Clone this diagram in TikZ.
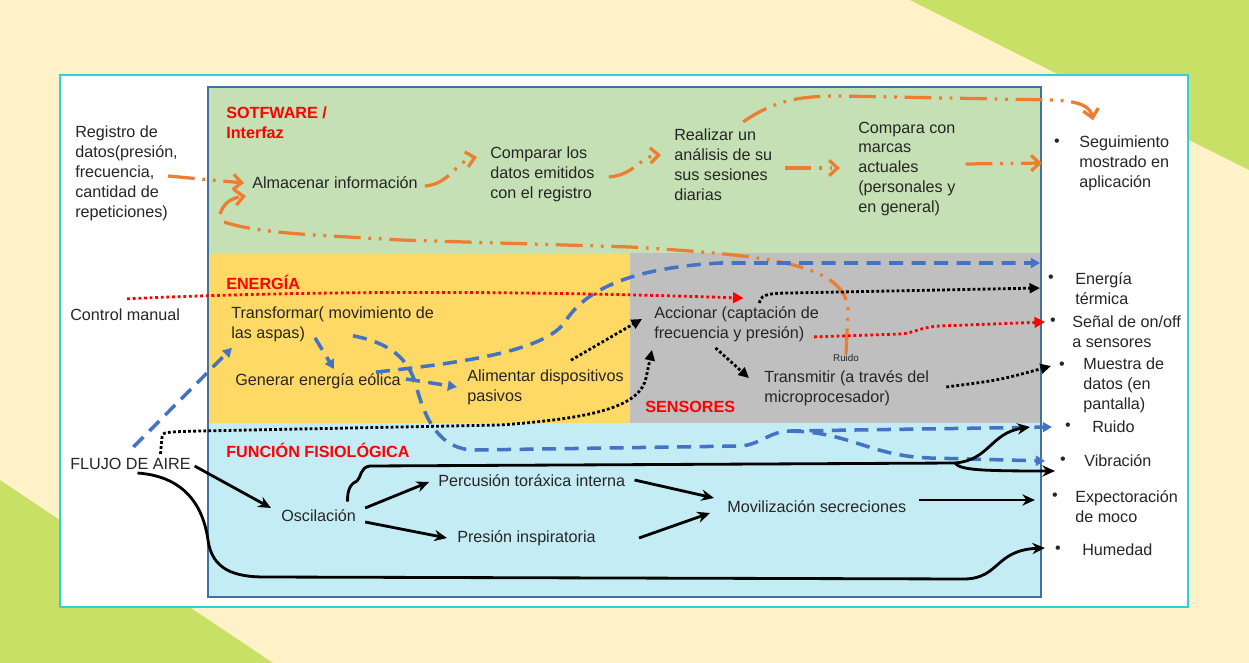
\documentclass[tikz,border=0pt]{standalone}
\usepackage{fontspec}
\setmainfont{Liberation Sans}
\usetikzlibrary{arrows.meta,calc}
\definecolor{crema}{HTML}{FFF2C8}
\definecolor{lima}{HTML}{C9E066}
\definecolor{cian}{HTML}{2CD4D8}
\definecolor{marco}{HTML}{41719C}
\definecolor{verde}{HTML}{C5E0B4}
\definecolor{amarillo}{HTML}{FFD966}
\definecolor{gris}{HTML}{BFBFBF}
\definecolor{celeste}{HTML}{C4ECF5}
\definecolor{naranja}{HTML}{ED7D31}
\definecolor{azul}{HTML}{4472C4}
\definecolor{rojo}{HTML}{FF0000}
\definecolor{tinta}{HTML}{262626}

\begin{document}
\begin{tikzpicture}[x=0.025cm,y=-0.025cm,
				texto/.style={anchor=west,inner sep=0pt,align=left,text=tinta,font=\fontsize{11.5}{14.2}\selectfont},
				titulo/.style={anchor=west,inner sep=0pt,align=left,text=rojo,font=\fontsize{11.5}{14.2}\selectfont\bfseries},
				punto/.style={inner sep=0pt,text=tinta,font=\fontsize{11.5}{14.2}\selectfont},
				softw/.style={draw=naranja,line width=2.3pt,dash pattern=on 19pt off 5.5pt on 2pt off 5.5pt on 2pt off 5.5pt,-{Straight Barb[length=6pt,width=11pt]}},
				energ/.style={draw=azul,line width=2.5pt,dash pattern=on 10pt off 6pt,-{Triangle[length=6.5pt,width=7pt]}},
				control/.style={draw=rojo,line width=2pt,dash pattern=on 2pt off 2pt,-{Triangle[length=7.5pt,width=7.5pt]}},
				sensor/.style={draw=black,line width=2pt,dash pattern=on 2pt off 1.6pt,-{Triangle[length=7.5pt,width=7pt]}},
				fisio/.style={draw=black,line width=2pt,-{Stealth[length=9pt,width=8pt]}}]
	\fill[crema] (0,0) rectangle (1249,663);
	\fill[lima] (910,0) -- (1249,0) -- (1249,170) -- cycle;
	\fill[lima] (0,480) -- (273,663) -- (0,663) -- cycle;
	\draw[cian, line width=1.5pt, fill=white] (60,75) rectangle (1188,607);
	\fill[verde] (208,87) rectangle (1041,253);
	\fill[amarillo] (208,253) rectangle (630,423);
	\fill[gris] (630,253) rectangle (1041,423);
	\fill[celeste] (208,423) rectangle (1041,597);
	\draw[marco, line width=1pt] (208,87) rectangle (1041,597);

	\node[titulo] (tsoft) at (226,123) {SOTFWARE /\\Interfaz};
	\node[texto] (regdatos) at (75,173) {Registro de\\datos(presión,\\frecuencia,\\cantidad de\\repeticiones)};
	\node[texto] (almacen) at (252,183) {Almacenar información};
	\node[texto] (comparar) at (490,174) {Comparar los\\datos emitidos\\con el registro};
	\node[texto] (realizar) at (674,165) {Realizar un\\análisis de su\\sus sesiones\\diarias};
	\node[texto] (marcas) at (858,169) {Compara con\\marcas\\actuales\\(personales y\\en general)};
	\node[punto] (bseg) at (1057,143) {•};
	\node[texto] (seguim) at (1079,163) {Seguimiento\\mostrado en\\aplicación};

	\node[titulo] (tenergia) at (226,282) {ENERGÍA};
	\node[texto] (control) at (70,315) {Control manual};
	\node[texto] (transf) at (231,324) {Transformar( movimiento de\\las aspas)};
	\node[texto] (generar) at (235,381) {Generar energía eólica};
	\node[texto] (aliment) at (467,387) {Alimentar dispositivos\\pasivos};
	\node[texto] (accionar) at (654,324) {Accionar (captación de\\frecuencia y presión)};
	\node[inner sep=0pt,text=tinta,font=\fontsize{7}{8}\selectfont] (ruidolbl) at (846,358) {Ruido};
	\node[texto] (transm) at (764,388) {Transmitir (a través del\\microprocesador)};
	\node[titulo] (tsens) at (645,407) {SENSORES};

	\node[punto] (bterm) at (1051,279) {•};
	\node[texto] (etermica) at (1075,289) {Energía\\térmica};
	\node[punto] (bsenal) at (1053,322) {•};
	\node[texto] (senal) at (1072,332) {Señal de on/off\\a sensores};
	\node[punto] (bmuestra) at (1062,366) {•};
	\node[texto] (muestra) at (1083,385) {Muestra de\\datos (en\\pantalla)};
	\node[punto] (bruido) at (1068,427) {•};
	\node[texto] (ruido) at (1092,427) {Ruido};
	\node[punto] (bvibra) at (1063,461) {•};
	\node[texto] (vibra) at (1084,461) {Vibración};
	\node[punto] (bexpect) at (1055,497) {•};
	\node[texto] (expect) at (1075,507) {Expectoración\\de moco};
	\node[punto] (bhumedad) at (1058,550) {•};
	\node[texto] (humedad) at (1082,550) {Humedad};

	\node[titulo] (tfun) at (226,450) {FUNCIÓN FISIOLÓGICA};
	\node[texto] (flujo) at (70,464) {FLUJO DE AIRE};
	\node[texto] (oscil) at (281,516) {Oscilación};
	\node[texto] (percus) at (438,481) {Percusión toráxica interna};
	\node[texto] (presion) at (457,538) {Presión inspiratoria};
	\node[texto] (moviliz) at (727,507) {Movilización secreciones};

	\coordinate (softin) at (220,214);
	\coordinate (softlow) at (224,222);
	\coordinate (bsplit) at (790,431);
	\coordinate (fsplit) at (955,463);

	\draw[softw] ($(regdatos.east)+(-10,3)$) -- ($(almacen.west)+(-8,0)$);
	\draw[softw] (softin) .. controls (224,202) and (232,198) .. ($(almacen.west)+(-6,13)$);
	\draw[softw,-] (softlow) .. controls (260,234) and (320,235) .. (400,240) -- (630,247) .. controls (760,255) and (846,262) .. (848,310) -- (ruidolbl.north);
	\draw[softw] ($(almacen.east)+(7,3)$) .. controls (450,184) and (455,162) .. ($(comparar.west)+(-13,-17)$);
	\draw[softw] ($(comparar.east)+(14,3)$) .. controls (635,175) and (640,156) .. ($(realizar.west)+(-13,-10)$);
	\draw[softw] ($(realizar.east)+(12,3)$) -- ($(marcas.west)+(-18,-1)$);
	\draw[softw] ($(marcas.east)+(10,-5)$) -- ($(seguim.west)+(-37,0)$);
	\draw[softw] ($(realizar.north)+(20,-7)$) .. controls (775,100) and (800,96) .. (840,96) -- (1050,100) .. controls (1080,101) and (1090,106) .. ($(seguim.north west)+(14,-15)$);

	\draw[energ] ($(flujo.north)+(3,-11)$) -- ($(transf.south west)+(1,6)$);
	\draw[energ] ($(transf.south west)+(84,-4)$) -- ($(generar.north)+(16,-4)$);
	\draw[energ] ($(transf.south west)+(122,-6)$) .. controls (390,343) and (408,358) .. (416,385) .. controls (425,420) and (440,450) .. (475,450) -- (740,446) .. controls (760,445) and (770,431) .. (bsplit) -- ($(bruido)+(-16,0)$);
	\draw[energ] (bsplit) .. controls (850,432) and (870,456) .. (930,458) -- ($(bvibra)+(-18,0)$);
	\draw[energ] ($(generar.east)+(5,-2)$) -- ($(aliment.west)+(-10,0)$);
	\draw[energ] ($(generar.north east)+(-25,-1)$) .. controls (470,362) and (545,350) .. (565,322) .. controls (585,290) and (630,268) .. (720,263) -- ($(bterm)+(-11,-16)$);

	\draw[control] ($(control.north)+(2,-10)$) .. controls (300,291) and (500,290) .. ($(accionar.north)+(7,-8)$);
	\draw[control] ($(accionar.south east)+(-5,-5)$) -- (900,334) .. controls (915,333) and (920,327) .. (940,326) -- ($(bsenal)+(-8,0)$);

	\draw[sensor] ($(flujo.north)+(30,-4)$) -- (162,437) .. controls (163,432) .. (200,431) -- (500,425) .. controls (600,418) and (640,405) .. (646,378) -- ($(accionar.south west)+(-2,8)$);
	\draw[sensor] ($(aliment.north east)+(-53,-9)$) -- ($(accionar.west)+(-12,-5)$);
	\draw[sensor] ($(accionar.north)+(23,-3)$) .. controls (760,296) and (765,293) .. (790,293) -- ($(bterm)+(-11,9)$);
	\draw[sensor] ($(accionar.south)+(-21,6)$) -- ($(transm.north west)+(-15,8)$);
	\draw[sensor] ($(transm.east)+(17,-1)$) .. controls (1000,380) .. ($(bmuestra)+(-11,0)$);

	\draw[fisio, shorten <=3pt] (flujo.east) -- ($(oscil.west)+(-10,-8)$);
	\draw[fisio] ($(oscil.east)+(9,-8)$) -- ($(percus.west)+(-9,1)$);
	\draw[fisio] ($(oscil.east)+(9,6)$) -- ($(presion.west)+(-10,0)$);
	\draw[fisio] ($(percus.east)+(9,-1)$) -- ($(moviliz.west)+(-13,-9)$);
	\draw[fisio] ($(presion.east)+(43,0)$) -- ($(moviliz.west)+(-17,6)$);
	\draw[fisio] ($(moviliz.east)+(13,-7)$) -- ($(bexpect)+(-20,3)$);
	\draw[fisio,-] ($(oscil.north)+(29,-8)$) .. controls (347,488) and (352,483) .. (357,481) .. controls (361,478) and (360,467) .. (370,466) -- (fsplit);
	\draw[fisio] (fsplit) .. controls (990,460) and (990,433) .. ($(bruido)+(-38,0)$);
	\draw[fisio] (fsplit) .. controls (960,470) and (980,471) .. ($(bvibra)+(-8,10)$);
	\draw[fisio] ($(flujo.south)+(7,3)$) .. controls (195,477) and (205,520) .. (208,540) .. controls (212,570) and (235,577) .. (265,577) -- (965,579) .. controls (1000,578) and (995,550) .. ($(bhumedad)+(-13,-2)$);
\end{tikzpicture}
\end{document}
